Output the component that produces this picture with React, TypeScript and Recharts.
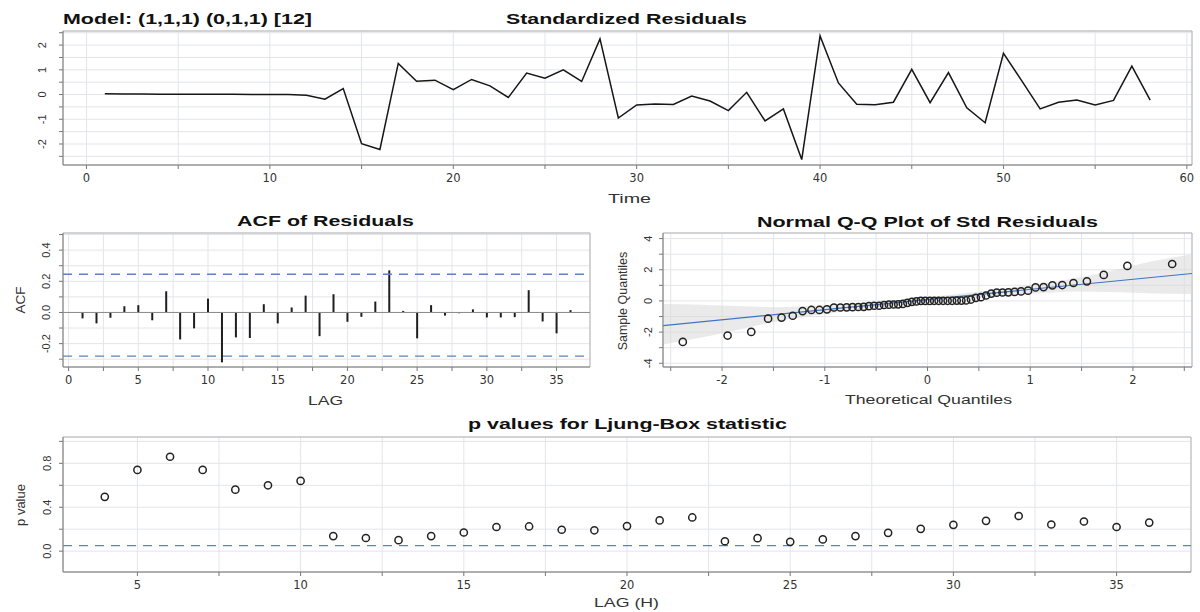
import React from 'react';
import {
  LineChart, Line, XAxis, YAxis, CartesianGrid, ReferenceArea, ReferenceLine,
  BarChart, Bar, ComposedChart, Scatter, Area,
} from 'recharts';

// ---------- data ----------
const timeIndex = Array.from({ length: 58 }, (_, i) => i + 1);
const stdResiduals = [
  0.03, 0.02, 0.02, 0.01, 0.01, 0.01, 0.01, 0.01, 0.0, 0.0,
  0.0, -0.03, -0.19, 0.24, -1.99, -2.22, 1.26, 0.54, 0.58, 0.2,
  0.61, 0.35, -0.12, 0.87, 0.66, 1.0, 0.53, 2.25, -0.95, -0.42,
  -0.38, -0.4, -0.06, -0.26, -0.65, 0.09, -1.07, -0.58, -2.63, 2.37,
  0.47, -0.39, -0.41, -0.31, 1.02, -0.33, 0.89, -0.54, -1.14, 1.67,
  0.55, -0.58, -0.31, -0.22, -0.42, -0.24, 1.15, -0.23,
];
const resXTicks = [0, 5, 10, 15, 20, 25, 30, 35, 40, 45, 50, 55, 60];
const resXLabels = [0, 10, 20, 30, 40, 50, 60];
const resYTicks = [-2.5, -2, -1.5, -1, -0.5, 0, 0.5, 1, 1.5, 2, 2.5];
const resYLabels = [-2, -1, 0, 1, 2];
const resXDomain = [-1.28, 60.28];
const resYDomain = [-2.85, 2.57];

const acfLags = Array.from({ length: 36 }, (_, i) => i + 1);
const acfValues = [
  -0.038, -0.07, -0.034, 0.04, 0.047, -0.05, 0.136, -0.173, -0.102, 0.089,
  -0.32, -0.16, -0.164, 0.053, -0.07, 0.032, 0.108, -0.152, 0.117, -0.06,
  -0.028, 0.07, 0.27, 0.01, -0.166, 0.047, -0.02, -0.005, 0.02, -0.032,
  -0.032, -0.03, 0.143, -0.058, -0.134, 0.015,
];
const acfBounds = [0.245, -0.28];
const acfXTicks = [0, 2.5, 5, 7.5, 10, 12.5, 15, 17.5, 20, 22.5, 25, 27.5, 30, 32.5, 35];
const acfXLabels = [0, 5, 10, 15, 20, 25, 30, 35];
const acfYTicks = [-0.3, -0.2, -0.1, 0, 0.1, 0.2, 0.3, 0.4, 0.5];
const acfYLabels = [-0.2, 0, 0.2, 0.4];
const acfXDomain = [-0.4, 37.4];
const acfYDomain = [-0.35, 0.51];

const qqTheoretical = [
  -2.382, -1.946, -1.716, -1.552, -1.421, -1.312, -1.216, -1.130, -1.052, -0.979,
  -0.911, -0.848, -0.787, -0.730, -0.674, -0.621, -0.570, -0.520, -0.471, -0.423,
  -0.376, -0.330, -0.285, -0.240, -0.196, -0.152, -0.108, -0.065, -0.022,
  0.022, 0.065, 0.108, 0.152, 0.196, 0.240, 0.285, 0.330, 0.376, 0.423,
  0.471, 0.520, 0.570, 0.621, 0.674, 0.730, 0.787, 0.848, 0.911, 0.979,
  1.052, 1.130, 1.216, 1.312, 1.421, 1.552, 1.716, 1.946, 2.382,
];
const qqLineIntercept = 0.09;
const qqLineSlope = 0.65;
const qqBandX = [-2.575, -2.2, -2.0, -1.5, -1.0, -0.5, 0, 0.5, 1.0, 1.5, 2.0, 2.2, 2.575];
const qqBandLow = [-2.8, -2.35, -2.08, -1.36, -0.84, -0.42, -0.06, 0.24, 0.46, 0.6, 0.52, 0.48, 0.45];
const qqBandHigh = [-0.2, -0.25, -0.3, -0.4, -0.28, -0.05, 0.24, 0.6, 1.02, 1.53, 2.26, 2.56, 3.0];
const qqXTicks = [-2.5, -2, -1.5, -1, -0.5, 0, 0.5, 1, 1.5, 2, 2.5];
const qqXLabels = [-2, -1, 0, 1, 2];
const qqYTicks = [-4, -3, -2, -1, 0, 1, 2, 3, 4];
const qqYLabels = [-4, -2, 0, 2, 4];
const qqXDomain = [-2.575, 2.575];
const qqYDomain = [-4.24, 4.36];

const lbLags = Array.from({ length: 33 }, (_, i) => i + 4);
const lbPValues = [
  0.495, 0.74, 0.86, 0.74, 0.56, 0.6, 0.64, 0.137, 0.12, 0.1,
  0.137, 0.17, 0.22, 0.225, 0.195, 0.19, 0.228, 0.28, 0.307, 0.09,
  0.118, 0.085, 0.107, 0.137, 0.167, 0.203, 0.24, 0.276, 0.32, 0.243,
  0.27, 0.22, 0.26,
];
const lbThreshold = 0.05;
const lbXTicks = [5, 7.5, 10, 12.5, 15, 17.5, 20, 22.5, 25, 27.5, 30, 32.5, 35];
const lbXLabels = [5, 10, 15, 20, 25, 30, 35];
const lbYTicks = [0, 0.2, 0.4, 0.6, 0.8, 1.0];
const lbYLabels = [0, 0.4, 0.8];
const lbXDomain = [2.72, 37.28];
const lbYDomain = [-0.19, 1.04];

// ---------- built tables ----------
const resData = timeIndex.map((t, i) => ({ t, r: stdResiduals[i] }));
const acfData = acfLags.map((lag, i) => ({ lag, acf: acfValues[i] }));
const sortedRes = [...stdResiduals].sort((a, b) => a - b);
const qqPoints = qqTheoretical.map((x, i) => ({ x, y: sortedRes[i] }));
const qqBand = qqBandX.map((x, i) => ({ x, band: [qqBandLow[i], qqBandHigh[i]] }));
const qqLine = qqXDomain.map((x) => ({ x, y: qqLineIntercept + qqLineSlope * x }));
const lbData = lbLags.map((lag, i) => ({ lag, p: lbPValues[i] }));

// ---------- style ----------
const GRID = '#e3e5ea';
const BOX = '#b4b4b4';
const AXIS = '#8a8a8a';
const TICKC = '#777';
const LABEL = '#333';
const BLUE = '#5a82c4';
const SANS = 'Liberation Sans, Arial, Helvetica, sans-serif';

const has = (arr: number[], v: number) => arr.some((a) => Math.abs(a - v) < 1e-9);

const xTick = (labels: number[], fmt: (v: number) => string) => (props: any) => {
  const { x, y, payload } = props;
  if (!has(labels, payload.value)) return <g />;
  return (
    <text x={x} y={y} dy={11} textAnchor="middle" fontSize={11.5} fill={LABEL}
      fontFamily="DejaVu Sans, sans-serif">{fmt(payload.value)}</text>
  );
};

const yTick = (labels: number[], fmt: (v: number) => string, shift: number) => (props: any) => {
  const { x, y, payload } = props;
  if (!has(labels, payload.value)) return <g />;
  const cx = x - shift;
  return (
    <text x={cx} y={y} dy="0.36em" transform={`rotate(-90 ${cx} ${y})`} textAnchor="middle"
      fontSize={11} fill={LABEL} fontFamily={SANS}>{fmt(payload.value)}</text>
  );
};

const intFmt = (v: number) => String(v);
const oneFmt = (v: number) => v.toFixed(1);

const Circle = (props: any) => (
  <circle cx={props.cx} cy={props.cy} r={3.6} fill="none" stroke="#222" strokeWidth={1.5} />
);

const axisCommon = {
  allowDataOverflow: true,
  tickSize: 4,
  tickLine: { stroke: TICKC },
  axisLine: { stroke: AXIS },
  interval: 0 as const,
};

export default function App() {
  return (
    <div style={{ position: 'absolute', left: 0, top: 0, width: 1200, height: 612, background: '#fff', overflow: 'hidden' }}>
      {/* Panel 1: standardized residuals */}
      <div style={{ position: 'absolute', left: 0, top: 0 }}>
        <LineChart width={1200} height={210} data={resData}
          margin={{ top: 31, right: 8, bottom: 25, left: 33 }}>
          <CartesianGrid stroke={GRID} />
          <XAxis dataKey="t" type="number" domain={resXDomain} ticks={resXTicks} height={20}
            tick={xTick(resXLabels, intFmt)} {...axisCommon} />
          <YAxis type="number" domain={resYDomain} ticks={resYTicks} width={30}
            tick={yTick(resYLabels, intFmt, 15)} {...axisCommon} />
          <ReferenceArea x1={resXDomain[0]} x2={resXDomain[1]} y1={resYDomain[0]} y2={resYDomain[1]}
            fill="none" stroke={BOX} fillOpacity={0} />
          <Line dataKey="r" stroke="#161616" strokeWidth={1.5} dot={false} isAnimationActive={false} />
        </LineChart>
      </div>

      {/* Panel 2: ACF */}
      <div style={{ position: 'absolute', left: 0, top: 190 }}>
        <BarChart width={600} height={220} data={acfData}
          margin={{ top: 43, right: 10, bottom: 23, left: 33 }}>
          <CartesianGrid stroke={GRID} />
          <XAxis dataKey="lag" type="number" domain={acfXDomain} ticks={acfXTicks} height={20}
            tick={xTick(acfXLabels, intFmt)} {...axisCommon} />
          <YAxis type="number" domain={acfYDomain} ticks={acfYTicks} width={30}
            tick={yTick(acfYLabels, oneFmt, 11)} {...axisCommon} />
          <ReferenceArea x1={acfXDomain[0]} x2={acfXDomain[1]} y1={acfYDomain[0]} y2={acfYDomain[1]}
            fill="none" stroke={BOX} fillOpacity={0} />
          <ReferenceLine y={0} stroke="#8a8a8a" strokeWidth={1} />
          {acfBounds.map((b) => (
            <ReferenceLine key={b} y={b} stroke={BLUE} strokeWidth={1.4} strokeDasharray="9 7" />
          ))}
          <Bar dataKey="acf" fill="#1e1e1e" barSize={2} isAnimationActive={false} />
        </BarChart>
      </div>

      {/* Panel 3: QQ plot */}
      <div style={{ position: 'absolute', left: 600, top: 190 }}>
        <ComposedChart width={600} height={220}
          margin={{ top: 43, right: 8, bottom: 23, left: 33 }}>
          <CartesianGrid stroke={GRID} />
          <XAxis dataKey="x" type="number" domain={qqXDomain} ticks={qqXTicks} height={20}
            tick={xTick(qqXLabels, intFmt)} {...axisCommon} />
          <YAxis type="number" domain={qqYDomain} ticks={qqYTicks} width={30}
            tick={yTick(qqYLabels, intFmt, 9)} {...axisCommon} />
          <ReferenceArea x1={qqXDomain[0]} x2={qqXDomain[1]} y1={qqYDomain[0]} y2={qqYDomain[1]}
            fill="none" stroke={BOX} fillOpacity={0} />
          <Area data={qqBand} dataKey="band" type="monotone" fill="#d9d9d9" fillOpacity={0.55}
            stroke="none" isAnimationActive={false} />
          <Line data={qqLine} dataKey="y" stroke="#3f74c4" strokeWidth={1.1} dot={false}
            isAnimationActive={false} />
          <Scatter data={qqPoints} dataKey="y" shape={Circle} isAnimationActive={false} />
        </ComposedChart>
      </div>

      {/* Panel 4: Ljung-Box p values */}
      <div style={{ position: 'absolute', left: 0, top: 390 }}>
        <ComposedChart width={1200} height={222} data={lbData}
          margin={{ top: 47, right: 9, bottom: 20, left: 33 }}>
          <CartesianGrid stroke={GRID} />
          <XAxis dataKey="lag" type="number" domain={lbXDomain} ticks={lbXTicks} height={20}
            tick={xTick(lbXLabels, intFmt)} {...axisCommon} />
          <YAxis type="number" domain={lbYDomain} ticks={lbYTicks} width={30}
            tick={yTick(lbYLabels, oneFmt, 10)} {...axisCommon} />
          <ReferenceArea x1={lbXDomain[0]} x2={lbXDomain[1]} y1={lbYDomain[0]} y2={lbYDomain[1]}
            fill="none" stroke={BOX} fillOpacity={0} />
          <ReferenceLine y={lbThreshold} stroke={BLUE} strokeWidth={1.4} strokeDasharray="9 7" />
          <Scatter dataKey="p" shape={Circle} isAnimationActive={false} />
        </ComposedChart>
      </div>

      {/* Titles and axis labels */}
      <svg width={1200} height={612} style={{ position: 'absolute', left: 0, top: 0, pointerEvents: 'none' }}
        fontFamily={SANS}>
        <g fontWeight="bold" fontSize={15} fill="#111">
          <text x={63} y={24} textLength={249} lengthAdjust="spacingAndGlyphs">Model: (1,1,1) (0,1,1) [12]</text>
          <text x={506} y={24} textLength={241} lengthAdjust="spacingAndGlyphs">Standardized Residuals</text>
          <text x={237} y={226} textLength={177} lengthAdjust="spacingAndGlyphs">ACF of Residuals</text>
          <text x={757} y={227} textLength={341} lengthAdjust="spacingAndGlyphs">Normal Q-Q Plot of Std Residuals</text>
          <text x={468} y={429} textLength={319} lengthAdjust="spacingAndGlyphs">p values for Ljung-Box statistic</text>
        </g>
        <g fontSize={12.5} fill={LABEL}>
          <text x={608} y={203} textLength={43} lengthAdjust="spacingAndGlyphs">Time</text>
          <text x={308} y={405} textLength={35} lengthAdjust="spacingAndGlyphs">LAG</text>
          <text x={845} y={404} textLength={167} lengthAdjust="spacingAndGlyphs">Theoretical Quantiles</text>
          <text x={594} y={607} textLength={65} lengthAdjust="spacingAndGlyphs">LAG (H)</text>
          <text x={20} y={300} dy="0.36em" textAnchor="middle" transform="rotate(-90 20 300)" fontSize={13.5}>ACF</text>
          <text x={622} y={301} dy="0.36em" textAnchor="middle" transform="rotate(-90 622 301)" fontSize={12.5}>Sample Quantiles</text>
          <text x={20} y={505} dy="0.36em" textAnchor="middle" transform="rotate(-90 20 505)" fontSize={13}>p value</text>
        </g>
      </svg>
    </div>
  );
}
